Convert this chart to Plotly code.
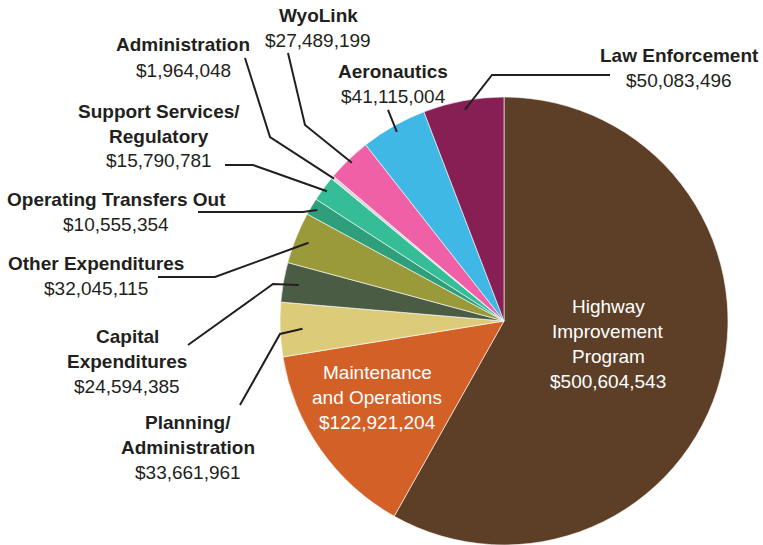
import math
import plotly.graph_objects as go

# ---------------- data ----------------
categories = [
    "Highway Improvement Program", "Maintenance and Operations", "Planning/Administration",
    "Capital Expenditures", "Other Expenditures", "Operating Transfers Out",
    "Support Services/Regulatory", "Administration", "WyoLink", "Aeronautics", "Law Enforcement",
]
values = [500604543, 122921204, 33661961, 24594385, 32045115, 10555354,
          15790781, 1964048, 27489199, 41115004, 50083496]
label_lines = [
    ["Highway", "Improvement", "Program"], ["Maintenance", "and Operations"],
    ["Planning/", "Administration"], ["Capital", "Expenditures"], ["Other Expenditures"],
    ["Operating Transfers Out"], ["Support Services/", "Regulatory"], ["Administration"],
    ["WyoLink"], ["Aeronautics"], ["Law Enforcement"],
]
colors = ["#5D3F28", "#D26027", "#DCCB78", "#4B5C45", "#9B9A3B", "#2F9E7B",
          "#35BD98", "#DCD6D6", "#EF60A7", "#3FB8E6", "#871F55"]

# ---------------- layout constants ----------------
W, H = 763, 545
CX, CY, R = 504, 321, 224
LINE_H = 25
TXT = "#231F20"
FONT = "Liberation Sans, Arial, Helvetica, sans-serif"

# label block: centre x, y of first line, inside?
label_pos = {
    "Highway Improvement Program": (608, 306, True),
    "Maintenance and Operations": (377, 372, True),
    "Planning/Administration": (188, 422, False),
    "Capital Expenditures": (127, 336, False),
    "Other Expenditures": (96, 263, False),
    "Operating Transfers Out": (116, 199, False),
    "Support Services/Regulatory": (159, 111, False),
    "Administration": (183, 45, False),
    "WyoLink": (318, 15, False),
    "Aeronautics": (393, 71, False),
    "Law Enforcement": (679, 55, False),
}
# leader lines: text-side points, then radius fraction of the anchor in the slice
leaders = {
    "Planning/Administration": ([(240, 405), (280, 334)], 0.90),
    "Capital Expenditures": ([(188, 345), (273, 284)], 0.93),
    "Other Expenditures": ([(158, 277), (215, 277)], 0.94),
    "Operating Transfers Out": ([(198, 212), (303, 212)], 0.97),
    "Support Services/Regulatory": ([(225, 165), (253, 165)], 0.98),
    "Administration": ([(245, 58), (270, 137)], 0.99),
    "WyoLink": ([(288, 53), (305, 125)], 0.98),
    "Aeronautics": ([(388, 110)], 0.97),
    "Law Enforcement": ([(610, 75), (492, 75)], 0.96),
}


def px(x):
    return x / W


def py(y):
    return 1 - y / H


total = sum(values)
mid_angle = {}
acc = 0
for c, v in zip(categories, values):
    mid_angle[c] = (acc + v / 2) / total * 360
    acc += v

fig = go.Figure(go.Pie(
    labels=categories, values=values, sort=False, direction="clockwise", rotation=0,
    marker=dict(colors=colors, line=dict(color="#FFFFFF", width=0.6)),
    textinfo="none", hovertemplate="%{label}<br>$%{value:,}<extra></extra>",
    domain=dict(x=[px(CX - R), px(CX + R)], y=[py(CY + R), py(CY - R)]),
    showlegend=False,
))

annotations = []
shapes = []
for c, v, lines in zip(categories, values, label_lines):
    x0, y0, inside = label_pos[c]
    col = "#FFFFFF" if inside else TXT
    texts = [(t, not inside) for t in lines] + [("${:,}".format(v), False)]
    for i, (t, bold) in enumerate(texts):
        annotations.append(dict(
            x=px(x0), y=py(y0 + i * LINE_H), xref="paper", yref="paper",
            text=f"<b>{t}</b>" if bold else t, showarrow=False,
            xanchor="center", yanchor="middle",
            font=dict(family=FONT, size=19, color=col),
        ))
    if c in leaders:
        pts, rf = leaders[c]
        a = math.radians(mid_angle[c])
        end = (CX + rf * R * math.sin(a), CY - rf * R * math.cos(a))
        allp = pts + [end]
        path = "M " + " L ".join(f"{px(x):.5f},{py(y):.5f}" for x, y in allp)
        shapes.append(dict(type="path", path=path, xref="paper", yref="paper",
                           line=dict(color=TXT, width=2)))

fig.update_layout(
    width=W, height=H, margin=dict(l=0, r=0, t=0, b=0),
    paper_bgcolor="#FFFFFF", plot_bgcolor="#FFFFFF",
    annotations=annotations, shapes=shapes,
)
fig.write_html(
    "out.html",
    config={"displayModeBar": False},
    post_script="document.body.style.margin='0';document.body.style.overflow='hidden';",
)
